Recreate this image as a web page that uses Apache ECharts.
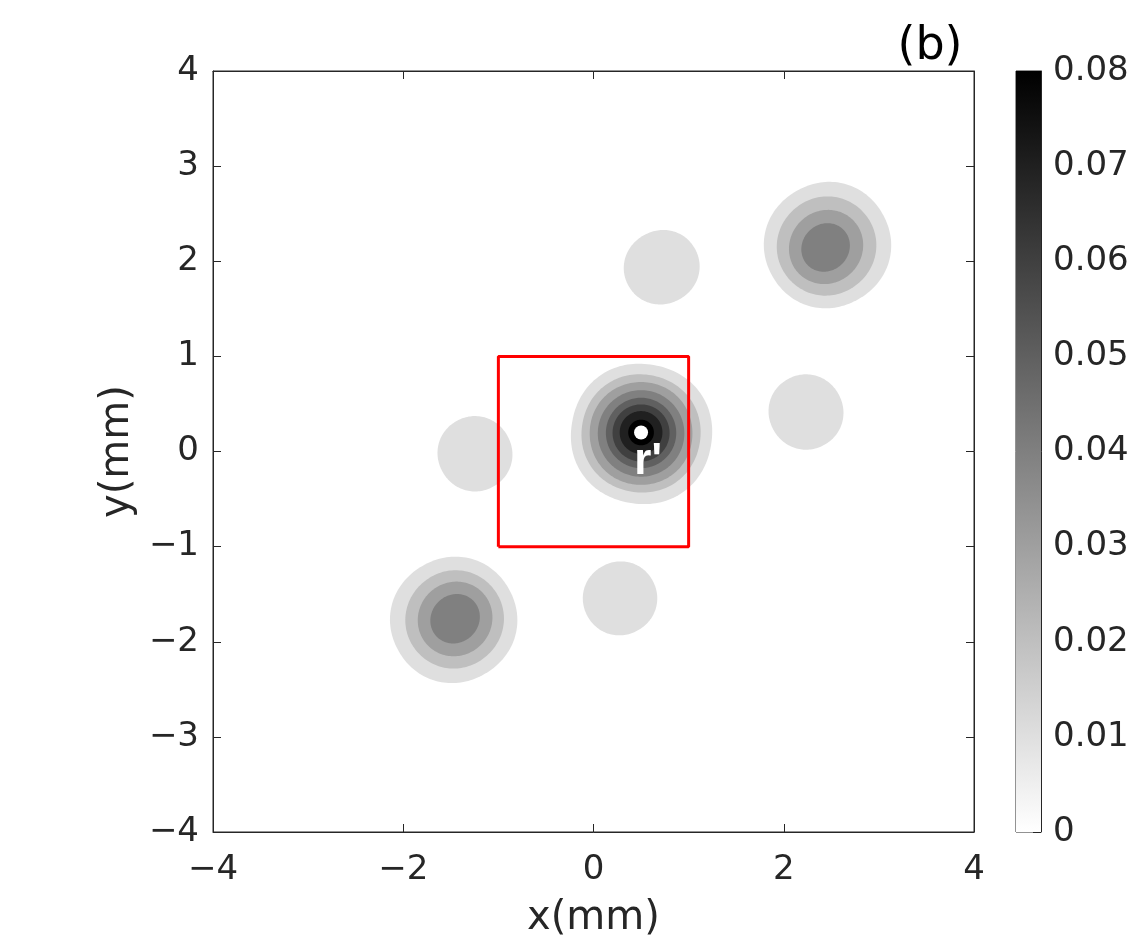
<!DOCTYPE html>
<html>
<head>
<meta charset="utf-8">
<script src="https://cdn.jsdelivr.net/npm/echarts@6/dist/echarts.min.js"></script>
<style>
html,body{margin:0;padding:0;background:#fff;}
#chart{width:1146px;height:945px;}
</style>
</head>
<body>
<div id="chart"></div>
<script>
// ---- data ----
const xTicks = [-4, -2, 0, 2, 4];
const yTicks = [-4, -3, -2, -1, 0, 1, 2, 3, 4];
const colorbarTicks = [0, 0.01, 0.02, 0.03, 0.04, 0.05, 0.06, 0.07, 0.08];
const colorMax = 0.08;

// filled contour regions: [level, centerX, centerY, radiusX, radiusY, tiltDeg, squareness]
const mainBlob = [
  [0.01, 0.505, 0.185, 0.74, 0.735, -10, 2.12],
  [0.02, 0.50, 0.19, 0.625, 0.62, -10, 2.08],
  [0.03, 0.50, 0.19, 0.54, 0.54, 0, 2.05],
  [0.04, 0.50, 0.19, 0.455, 0.455, 0, 2.0],
  [0.05, 0.50, 0.195, 0.37, 0.37, 0, 2.0],
  [0.06, 0.50, 0.195, 0.30, 0.30, 0, 2.0],
  [0.07, 0.50, 0.20, 0.225, 0.225, 0, 2.0],
  [0.08, 0.50, 0.20, 0.135, 0.135, 0, 2.0]
];
const upperRightBlob = [
  [0.01, 2.46, 2.17, 0.665, 0.655, 30, 2.08],
  [0.02, 2.45, 2.16, 0.525, 0.515, 40, 2.03],
  [0.03, 2.445, 2.15, 0.40, 0.38, 45, 2.0],
  [0.04, 2.44, 2.145, 0.265, 0.245, 45, 2.0]
];
const lowerLeftBlob = [
  [0.01, -1.47, -1.77, 0.665, 0.655, 30, 2.08],
  [0.02, -1.46, -1.765, 0.52, 0.51, 40, 2.03],
  [0.03, -1.455, -1.76, 0.40, 0.385, 45, 2.0],
  [0.04, -1.455, -1.758, 0.27, 0.25, 45, 2.0]
];
const smallBlobs = [
  [0.01, -1.246, -0.024, 0.39, 0.395, 30, 2.05],
  [0.01, 0.717, 1.937, 0.40, 0.385, 30, 2.05],
  [0.01, 2.234, 0.415, 0.39, 0.395, 30, 2.05],
  [0.01, 0.279, -1.544, 0.39, 0.385, 30, 2.05]
];
const regionBox = [[-1, -1], [1, -1], [1, 1], [-1, 1], [-1, -1]];
const sourcePoint = [0.5, 0.2];
const sourceLabel = "r'";
const panelLabel = '(b)';
const xName = 'x(mm)';
const yName = 'y(mm)';

// ---- chart ----
const contourData = [].concat(mainBlob, upperRightBlob, lowerLeftBlob, smallBlobs)
  .slice().sort((a, b) => a[0] - b[0]);

const txt = '#262626';
const font = 'DejaVu Sans';
const minusFmt = v => String(v).replace('-', '\u2212');

const chart = echarts.init(document.getElementById('chart'), null, {renderer: 'canvas'});

function renderContour(params, api) {
  const c = api.coord([api.value(1), api.value(2)]);
  const s = api.size([api.value(3), api.value(4)]);
  const rx = s[0], ry = s[1];
  const t = api.value(5) * Math.PI / 180;
  const n = api.value(6);
  const pts = [];
  const N = 160;
  for (let i = 0; i < N; i++) {
    const a = i / N * 2 * Math.PI;
    const ca = Math.cos(a), sa = Math.sin(a);
    const x = rx * Math.sign(ca) * Math.pow(Math.abs(ca), 2 / n);
    const y = ry * Math.sign(sa) * Math.pow(Math.abs(sa), 2 / n);
    pts.push([c[0] + x * Math.cos(t) - y * Math.sin(t), c[1] - (x * Math.sin(t) + y * Math.cos(t))]);
  }
  return {type: 'polygon', shape: {points: pts}, style: {fill: api.visual('color'), stroke: null}};
}

const lineAx = {show: true, onZero: false, lineStyle: {color: txt, width: 1}};
const tickAx = {show: true, inside: true, length: 8, lineStyle: {color: txt}};

const option = {
  backgroundColor: '#fff',
  animation: false,
  title: {
    text: panelLabel,
    left: 925, top: 19, textAlign: 'center',
    textStyle: {fontFamily: font, fontSize: 46, fontWeight: 'normal', color: '#000'}
  },
  grid: [
    {left: 213, top: 71, width: 761, height: 761, show: true, borderColor: txt, borderWidth: 1, backgroundColor: '#fff'},
    {left: 1016, top: 71, width: 25, height: 761, show: true, borderColor: txt, borderWidth: 1}
  ],
  visualMap: [{
    type: 'continuous', show: false, seriesIndex: 0, dimension: 0,
    min: 0, max: colorMax, inRange: {color: ['#ffffff', '#000000']}
  }],
  xAxis: [
    {gridIndex: 0, type: 'value', position: 'bottom', min: xTicks[0], max: xTicks[xTicks.length - 1], interval: 2,
      name: xName, nameLocation: 'middle', nameGap: 67,
      nameTextStyle: {fontFamily: font, fontSize: 40, color: txt},
      axisLine: lineAx, axisTick: tickAx,
      axisLabel: {fontFamily: font, fontSize: 34, color: txt, margin: 21, formatter: minusFmt},
      splitLine: {show: false}},
    {gridIndex: 0, type: 'value', position: 'top', min: xTicks[0], max: xTicks[xTicks.length - 1], interval: 2,
      axisLine: lineAx, axisTick: tickAx,
      axisLabel: {show: false}, splitLine: {show: false}},
    {gridIndex: 1, type: 'category', data: ['c'], show: false}
  ],
  yAxis: [
    {gridIndex: 0, type: 'value', position: 'left', min: yTicks[0], max: yTicks[yTicks.length - 1], interval: 1,
      name: yName, nameLocation: 'middle', nameGap: 60, nameRotate: 90,
      nameTextStyle: {fontFamily: font, fontSize: 40, color: txt},
      axisLine: lineAx, axisTick: tickAx,
      axisLabel: {fontFamily: font, fontSize: 34, color: txt, margin: 14, formatter: minusFmt},
      splitLine: {show: false}},
    {gridIndex: 0, type: 'value', position: 'right', min: yTicks[0], max: yTicks[yTicks.length - 1], interval: 1,
      axisLine: lineAx, axisTick: tickAx,
      axisLabel: {show: false}, splitLine: {show: false}},
    {gridIndex: 1, type: 'value', position: 'right', min: colorbarTicks[0], max: colorMax, interval: 0.01,
      axisLine: lineAx, axisTick: tickAx,
      axisLabel: {fontFamily: font, fontSize: 34, color: txt, margin: 12,
        formatter: v => (Math.abs(v) < 1e-9 ? '0' : v.toFixed(2))},
      splitLine: {show: false}}
  ],
  series: [
    {
      type: 'custom', xAxisIndex: 0, yAxisIndex: 0, clip: true,
      renderItem: renderContour,
      encode: {x: 1, y: 2},
      data: contourData, z: 2
    },
    {
      type: 'line', xAxisIndex: 0, yAxisIndex: 0, data: regionBox, symbol: 'none',
      lineStyle: {color: '#ff0000', width: 3}, z: 3, silent: true
    },
    {
      type: 'scatter', xAxisIndex: 0, yAxisIndex: 0, data: [sourcePoint], symbolSize: 14,
      itemStyle: {color: '#ffffff', opacity: 1}, z: 4,
      label: {show: true, position: 'inside', offset: [7, 29], formatter: sourceLabel,
        fontFamily: 'Liberation Sans', fontWeight: 'bold', fontSize: 44, color: '#ffffff', opacity: 1}
    },
    {
      type: 'bar', xAxisIndex: 2, yAxisIndex: 2, data: [colorMax], barWidth: '100%', silent: true,
      itemStyle: {color: new echarts.graphic.LinearGradient(0, 0, 0, 1, [
        {offset: 0, color: '#000000'}, {offset: 1, color: '#ffffff'}])}
    }
  ]
};
chart.setOption(option);
</script>
</body>
</html>
